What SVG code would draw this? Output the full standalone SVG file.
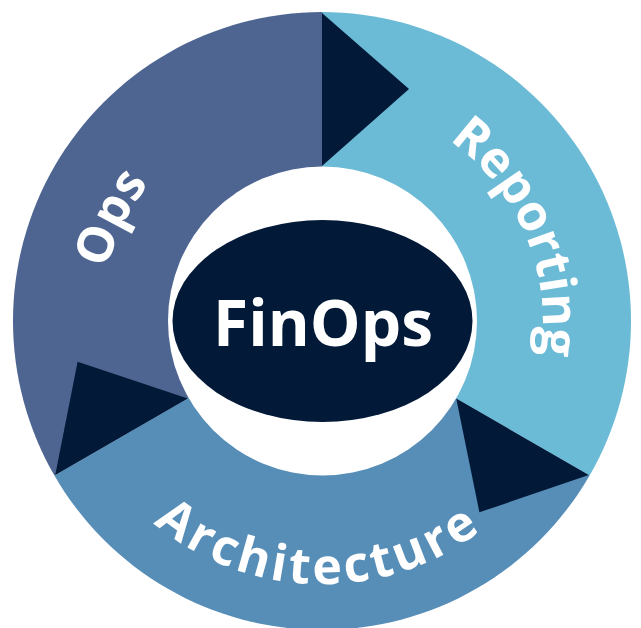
<svg xmlns="http://www.w3.org/2000/svg" width="641" height="628" viewBox="0 0 641 628">
  <style>
    .label { font-family: "Open Sans", "Liberation Sans", sans-serif; font-weight: 700; font-size: 50px; fill: #ffffff; }
    .arrow { fill: #031938; }
    .center-text { font-family: "Open Sans", "Liberation Sans", sans-serif; font-weight: 700; font-size: 64px; fill: #ffffff; }
  </style>
  <defs>
    <path id="arcOps" d="M192.1 499.8 A221 221 0 0 1 382.9 108.6"/>
    <path id="arcRep" d="M272.3 105.7 A221 221 0 0 1 442.4 506.3"/>
    <path id="arcArch" d="M62.2 362.1 A263 263 0 0 0 580.2 371.2"/>
    <polygon id="tri" points="322,13 409,89 322,166"/>
  </defs>
  <rect width="641" height="628" fill="#ffffff"/>
  <g id="ops">
    <path d="M322 321 L54.4 475.5 A309 309 0 0 1 322 12 Z" fill="#4E6592"/>
    <text class="label"><textPath href="#arcOps" startOffset="50%" text-anchor="middle">Ops</textPath></text>
  </g>
  <g id="reporting">
    <path d="M322 321 L322 12 A309 309 0 0 1 589.6 475.5 Z" fill="#6BBAD6"/>
    <text class="label"><textPath href="#arcRep" startOffset="50%" text-anchor="middle">Reporting</textPath></text>
  </g>
  <g id="architecture">
    <path d="M322 321 L589.6 475.5 A309 309 0 0 1 54.4 475.5 Z" fill="#578EB8"/>
    <text class="label" letter-spacing="3.5"><textPath href="#arcArch" startOffset="50%" text-anchor="middle">Architecture</textPath></text>
  </g>
  <g id="connectors">
    <use href="#tri" class="arrow"/>
    <use href="#tri" class="arrow" transform="rotate(120 322 321)"/>
    <use href="#tri" class="arrow" transform="rotate(240 322 321)"/>
  </g>
  <g id="finops">
    <circle cx="322.5" cy="321" r="154.5" fill="#ffffff"/>
    <ellipse cx="322.5" cy="321" rx="150" ry="101" fill="#031938"/>
    <text class="center-text" x="323" y="346" text-anchor="middle">FinOps</text>
  </g>
</svg>
